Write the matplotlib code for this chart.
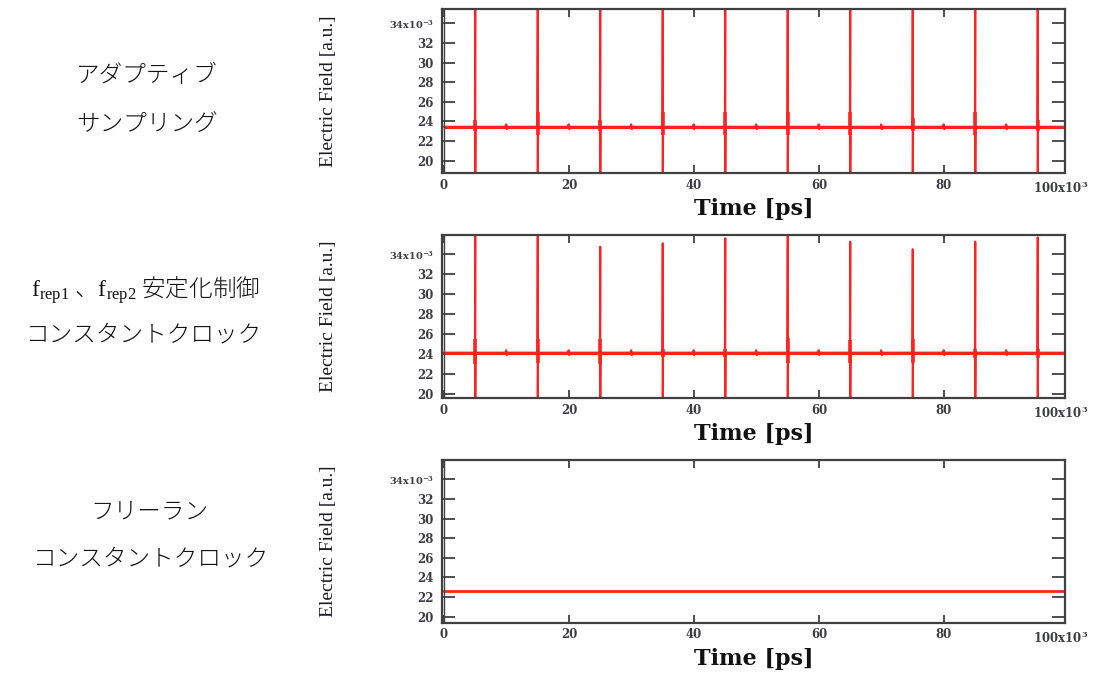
import numpy as np
import matplotlib
import matplotlib.pyplot as plt
matplotlib.use('Agg')

plt.rcParams['mathtext.fontset'] = 'custom'
plt.rcParams['mathtext.rm'] = 'Liberation Serif'
plt.rcParams['mathtext.default'] = 'regular'

# axis ticks
time_ticks = [0, 20, 40, 60, 80]
time_labels = ['0', '20', '40', '60', '80']
field_ticks = [20, 22, 24, 26, 28, 30, 32, 34]
field_labels = ['20', '22', '24', '26', '28', '30', '32', '34x10$^{-3}$']

# pulse positions (x10^3 ps) and small blips between them
pulse_t = [5, 15, 25, 35, 45, 55, 65, 75, 85, 95]
blip_t = [10, 20, 30, 40, 50, 60, 70, 80, 90]

# adaptive sampling
adaptive_level = 23.46
adaptive_peak = [36.5, 36.5, 36.5, 36.5, 36.5, 36.5, 36.5, 36.5, 36.5, 36.5]
adaptive_dip = [17.0, 17.0, 17.0, 17.0, 17.0, 17.0, 17.0, 17.0, 17.0, 17.0]
adaptive_rip_hi = [24.2, 25.0, 24.2, 25.0, 25.0, 25.0, 25.0, 24.4, 25.0, 24.2]
adaptive_rip_lo = [23.0, 22.6, 23.0, 22.6, 22.6, 22.6, 22.6, 23.0, 22.6, 23.0]

# frep1/frep2 stabilised constant clock
locked_level = 24.14
locked_peak = [35.8, 35.8, 34.76, 35.1, 35.6, 35.8, 35.26, 34.5, 35.26, 35.7]
locked_dip = [18.0, 18.0, 18.0, 18.0, 18.0, 18.0, 18.0, 18.0, 18.0, 18.0]
locked_rip_hi = [25.5, 25.5, 25.5, 24.5, 24.5, 25.6, 25.4, 25.5, 24.5, 24.5]
locked_rip_lo = [23.0, 23.1, 23.0, 23.7, 23.7, 23.1, 23.1, 23.1, 23.6, 23.6]

# free-running constant clock
freerun_level = 22.64

blip_amp = 0.25

W, H = 1097, 673
RED = '#ff2222'
FRAME = '#404040'
TICKTXT = '#3c3c46'


def box(left, top, right, bottom):
    return [left / W, 1 - bottom / H, (right - left) / W, (bottom - top) / H]


def build_trace(level, peaks, dips):
    # flat level with a spike at every pulse and a tiny blip half way between
    xs, ys = [0.0], [level]
    events = sorted([(t, 'p', i) for i, t in enumerate(pulse_t)] + [(t, 'b', i) for i, t in enumerate(blip_t)])
    for t, kind, i in events:
        if kind == 'p':
            xs += [t - 0.05, t, t, t + 0.05]
            ys += [level, peaks[i], dips[i], level]
        else:
            xs += [t - 0.15, t - 0.05, t + 0.05, t + 0.15]
            ys += [level, level + blip_amp, level - blip_amp, level]
    xs.append(99.4)
    ys.append(level)
    return xs, ys


def style_axes(ax, ylim):
    ax.set_xlim(-0.32, 99.36)
    ax.set_ylim(*ylim)
    for s in ax.spines.values():
        s.set_color(FRAME)
        s.set_linewidth(1.6)
    ax.axvline(0, color=FRAME, lw=1.0)
    ax.set_xticks(time_ticks, time_labels)
    ax.set_yticks(field_ticks, field_labels)
    ax.tick_params(axis='x', direction='in', length=6, width=1.3, color=FRAME,
                   top=True, pad=4, labelsize=8.5, labelcolor=TICKTXT)
    ax.tick_params(axis='y', direction='in', length=9.5, width=1.3, color=FRAME,
                   right=True, pad=6, labelsize=8.5, labelcolor=TICKTXT)
    for lab in ax.get_xticklabels() + ax.get_yticklabels():
        lab.set_fontfamily('DejaVu Serif')
        lab.set_fontweight('bold')
    ax.get_yticklabels()[-1].set_fontsize(7)
    ax.text(98.6, ylim[0], '100x10$^{3}$', ha='center', va='top', fontsize=8.5,
            family='DejaVu Serif', weight='bold', color=TICKTXT,
            transform=ax.transData, clip_on=False).set_y(ylim[0] - (ylim[1] - ylim[0]) * 0.045)
    ax.set_facecolor('white')


fig = plt.figure(figsize=(10.97, 6.73), dpi=100)

panels = [
    # frame (left, top, right, bottom) px, ylim, data
    ((442, 9.3, 1065, 173), (18.75, 35.43), adaptive_level, adaptive_peak, adaptive_dip,
     adaptive_rip_hi, adaptive_rip_lo),
    ((442, 235, 1065, 398), (19.6, 35.93), locked_level, locked_peak, locked_dip,
     locked_rip_hi, locked_rip_lo),
    ((442, 460, 1065, 622.7), (19.39, 35.97), freerun_level, None, None, None, None),
]

for frame, ylim, level, peaks, dips, rhi, rlo in panels:
    ax = fig.add_axes(box(*frame))
    if peaks is not None:
        x, y = build_trace(level, peaks, dips)
        ax.plot(x, y, color=RED, lw=1.5)
        ax.hlines(level, 0, 99.4, color=RED, lw=2.2)
        ax.vlines(pulse_t, rlo, rhi, color=RED, lw=2.6)
    else:
        ax.plot([0, 99.4], [level, level], color=RED, lw=2.0)
    style_axes(ax, ylim)
    cy = (frame[1] + frame[3]) / 2
    fig.text(328 / W, 1 - cy / H, 'Electric Field [a.u.]', rotation=90, ha='center', va='center',
             family='Liberation Serif', fontsize=14, color='#1a1a22')
    fig.text(753.5 / W, 1 - (frame[3] + 36) / H, 'Time [ps]', ha='center', va='center',
             family='DejaVu Serif', weight='bold', fontsize=16, color='#111111')

# row captions on the left
jp = ['Noto Sans CJK JP', 'DejaVu Sans']
captions = [
    ('アダプティブ', 147, 76),
    ('サンプリング', 147, 124),
    (r'$\mathrm{f}_{\mathrm{rep1}}$ 、$\mathrm{f}_{\mathrm{rep2}}$ 安定化制御', 145, 291),
    ('コンスタントクロック', 143, 335),
    ('フリーラン', 149, 512),
    ('コンスタントクロック', 150, 559),
]
for txt, cx, cy in captions:
    fig.text(cx / W, 1 - cy / H, txt, ha='center', va='center', family=jp,
             fontsize=17, weight='light', color='#111111')

fig.savefig('out.png', dpi=100, facecolor='white')
